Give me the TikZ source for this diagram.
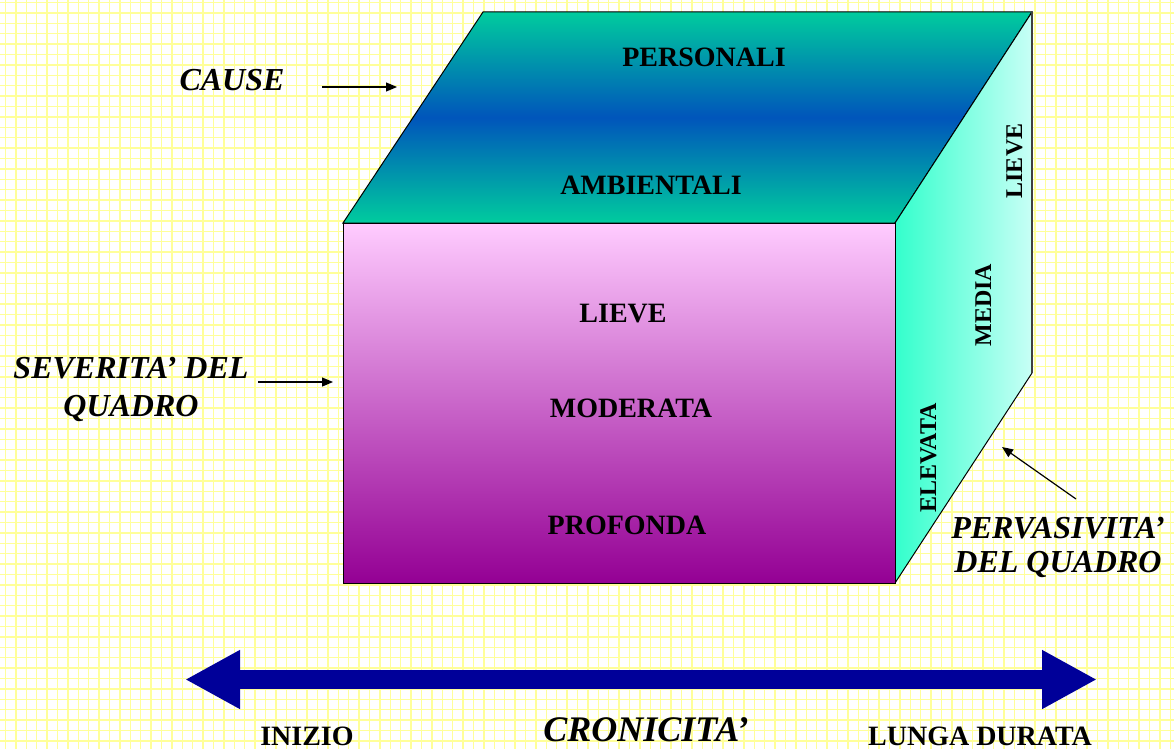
\documentclass[tikz,border=0pt]{standalone}
\usepackage{fontspec}
\setmainfont{Liberation Serif}
\usetikzlibrary{arrows.meta}
\definecolor{gridy}{HTML}{FFFF99}
\definecolor{topgreen}{HTML}{00CC9E}
\definecolor{topblue}{HTML}{0055BB}
\definecolor{sideA}{HTML}{33FFCC}
\definecolor{sideB}{HTML}{C8FFF6}
\definecolor{frontA}{HTML}{FFCCFF}
\definecolor{frontB}{HTML}{940094}
\definecolor{arrowblue}{HTML}{000099}
\tikzset{
  facetext/.style={font=\bfseries\fontsize{28}{30}\selectfont, anchor=base, inner sep=0pt},
  sidetext/.style={font=\bfseries\fontsize{24}{26}\selectfont, anchor=base, inner sep=0pt, rotate=90},
  axistext/.style={font=\bfseries\fontsize{28}{30}\selectfont, anchor=base, inner sep=0pt},
  lbltext/.style={font=\bfseries\itshape\fontsize{32}{36}\selectfont, anchor=base, inner sep=0pt, align=center},
  thinarrow/.style={draw=black, line width=1.2pt, -{Triangle[length=11pt,width=9pt]}},
  bigarrow/.style={draw=arrowblue, line width=19pt, {Triangle[length=55pt,width=55pt]}-{Triangle[length=55pt,width=55pt]}},
  edge/.style={draw=black, line width=1pt}
}
\begin{document}
\begin{tikzpicture}[x=1pt,y=-1pt]
\useasboundingbox (0,0) rectangle (1174,749);
\fill[white] (0,0) rectangle (1174,749);
% grid
\foreach \i in {0,...,113} {\draw[gridy, line width=1.3pt] (5.5+\i*10.4,0) -- (5.5+\i*10.4,749);}
\foreach \j in {0,...,72} {\draw[gridy, line width=1.3pt] (0,2.5+\j*10.4) -- (1174,2.5+\j*10.4);}
% cube corners
\coordinate (ftl) at (343,223);
\coordinate (ftr) at (895,223);
\coordinate (fbl) at (343,583);
\coordinate (fbr) at (895,583);
\coordinate (btl) at (483,12);
\coordinate (btr) at (1032,12);
\coordinate (bbr) at (1032,373);
% top face
\shade[top color=topgreen, bottom color=topgreen, middle color=topblue] (ftl) -- (btl) -- (btr) -- (ftr) -- cycle;
\draw[edge] (ftl) -- (btl) -- (btr) -- (ftr) -- cycle;
% right face
\shade[left color=sideA, right color=sideB] (ftr) -- (btr) -- (bbr) -- (fbr) -- cycle;
\draw[edge] (ftr) -- (btr);
\draw[edge] (bbr) -- (fbr);
\draw[draw=black!75, line width=1.5pt] (btr) -- (bbr);
% front face
\shade[top color=frontA, bottom color=frontB] (ftl) rectangle (fbr);
\draw[edge] (ftl) rectangle (fbr);
% face texts
\node[facetext] (personali) at (704,67) {PERSONALI};
\node[facetext] (ambientali) at (651,194) {AMBIENTALI};
\node[facetext] (flieve) at (623,322) {LIEVE};
\node[facetext] (moderata) at (631,417) {MODERATA};
\node[facetext] (profonda) at (627,534) {PROFONDA};
\node[sidetext] (slieve) at (1022,161) {LIEVE};
\node[sidetext] (media) at (991,305) {MEDIA};
\node[sidetext] (elevata) at (936,458) {ELEVATA};
% labels
\node[lbltext] (cause) at (232,91) {CAUSE};
\node[lbltext] (severita) at (131,416) {SEVERITA’ DEL\\[2pt]QUADRO};
\node[lbltext] (pervasivita) at (1058,572) {PERVASIVITA’\\[-2pt]DEL QUADRO};
\node[lbltext, font=\bfseries\itshape\fontsize{36}{40}\selectfont] (cronicita) at (646,741) {CRONICITA’};
\node[axistext] (inizio) at (307,745) {INIZIO};
\node[axistext] (lunga) at (980,745) {LUNGA DURATA};
% thin arrows
\coordinate (causeA) at (322,87);
\coordinate (causeB) at (397,87);
\draw[thinarrow] (causeA) -- (causeB);
\coordinate (sevA) at (258,382);
\coordinate (sevB) at (333,382);
\draw[thinarrow] (sevA) -- (sevB);
\coordinate (perA) at (1076,499);
\coordinate (perB) at (1002,447);
\draw[thinarrow] (perA) -- (perB);
% big double arrow
\coordinate (axL) at (185,679.5);
\coordinate (axR) at (1097,679.5);
\draw[bigarrow] (axL) -- (axR);
\end{tikzpicture}
\end{document}
